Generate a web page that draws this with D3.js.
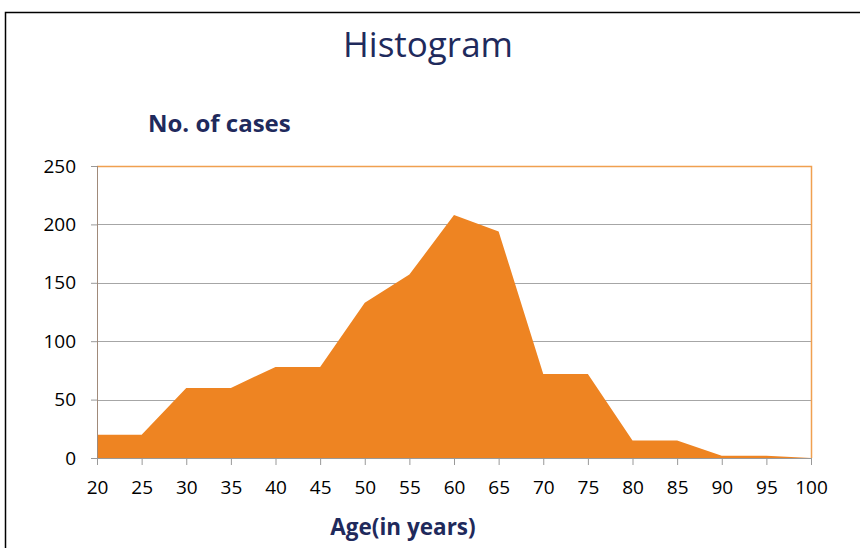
<!DOCTYPE html>
<html>
<head>
<meta charset="utf-8">
<script src="https://cdn.jsdelivr.net/npm/d3@7"></script>
<style>
  body { margin: 0; background: #fff; }
  svg { display: block; font-family: "Open Sans", "Noto Sans", sans-serif; }
</style>
</head>
<body>
<div class="container"></div>
<script>
// age groups (x) and number of cases (y)
const ages = [20, 25, 30, 35, 40, 45, 50, 55, 60, 65, 70, 75, 80, 85, 90, 95, 100];
const cases = [20, 20, 60, 60, 78, 78, 133, 157, 208, 194, 72, 72, 15, 15, 2, 2, 0];
const yTicks = [0, 50, 100, 150, 200, 250];

const W = 860, H = 548;
const margin = {top: 166, right: 49, bottom: 90, left: 97};
const width = W - margin.left - margin.right,
    height = H - margin.top - margin.bottom;

const svg = d3.select("div.container").append("svg")
    .attr("width", W)
    .attr("height", H);

// outer frame
svg.append("path")
    .attr("d", `M5.5,${H} V12.5 H${W}`)
    .attr("fill", "none")
    .attr("stroke", "#000")
    .attr("stroke-width", 1.5);

svg.append("text")
    .attr("x", 428)
    .attr("y", 57)
    .attr("text-anchor", "middle")
    .attr("fill", "#1f2a5c")
    .style("font-size", "35px")
    .text("Histogram");

svg.append("text")
    .attr("x", 148)
    .attr("y", 132)
    .attr("fill", "#1f2a5c")
    .style("font-size", "24px")
    .style("font-weight", "bold")
    .text("No. of cases");

svg.append("text")
    .attr("x", 403)
    .attr("y", 535)
    .attr("text-anchor", "middle")
    .attr("fill", "#1f2a5c")
    .style("font-size", "22.5px")
    .style("font-weight", "bold")
    .text("Age(in years)");

const g = svg.append("g").attr("transform", `translate(${margin.left},${margin.top})`);

const x = d3.scaleLinear().domain([d3.min(ages), d3.max(ages)]).range([0, width]);
const y = d3.scaleLinear().domain([0, 250]).range([height, 0]);

// gridlines
g.selectAll("line.grid")
    .data(yTicks.filter(d => d > 0 && d < 250))
    .enter()
    .append("line")
    .attr("class", "grid")
    .attr("x1", 0).attr("x2", width)
    .attr("y1", d => Math.round(y(d)) + 0.5)
    .attr("y2", d => Math.round(y(d)) + 0.5)
    .attr("stroke", "#a6a6a6")
    .attr("stroke-width", 1.2);

// area
const area = d3.area()
    .x((d, i) => x(ages[i]))
    .y0(y(0))
    .y1(d => y(d));

g.append("path")
    .datum(cases)
    .attr("d", area)
    .attr("fill", "#ee8422");

// top and right borders of plot area
g.append("path")
    .attr("d", `M0,0.5 H${width + 0.5} V${height}`)
    .attr("fill", "none")
    .attr("stroke", "#f0a050")
    .attr("stroke-width", 1.5);

// axes
const yAxis = d3.axisLeft(y).tickValues(yTicks).tickSize(6).tickPadding(15);
const xAxis = d3.axisBottom(x).tickValues(ages).tickSize(7).tickPadding(16);

const ya = g.append("g").call(yAxis).attr("font-family", null);
ya.select(".domain").attr("stroke", "#a08a7a").attr("d", `M0.5,0 V${height}`);
ya.selectAll(".tick line").attr("stroke", "#999");
ya.selectAll("text").style("font-size", "19px").attr("fill", "#000");

const xa = g.append("g").attr("transform", `translate(0,${height})`).call(xAxis).attr("font-family", null);
xa.select(".domain").attr("stroke", "#999").attr("d", `M0,0.5 H${width}`);
xa.selectAll(".tick line").attr("stroke", "#999");
xa.selectAll("text").style("font-size", "19px").attr("fill", "#000");
</script>
</body>
</html>
